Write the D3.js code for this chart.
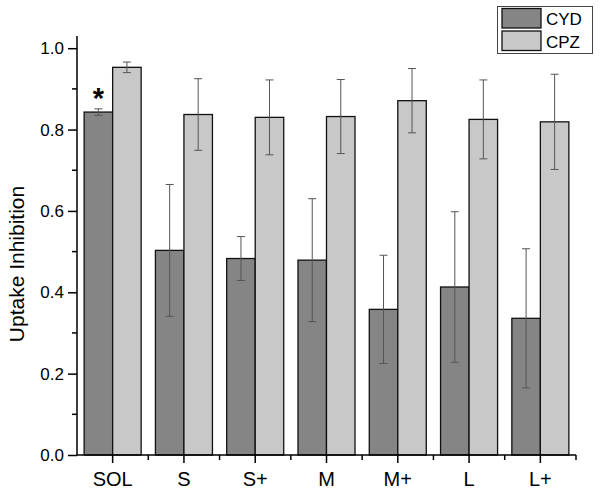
<!DOCTYPE html>
<html>
<head>
<meta charset="utf-8">
<script src="https://cdn.jsdelivr.net/npm/d3@7"></script>
<style>
  body { margin: 0; background: #fff; }
  text { font-family: "Liberation Sans", Arial, sans-serif; fill: #000; }
</style>
</head>
<body>
<div id="chart-container"></div>
<script>
const categories = ["SOL", "S", "S+", "M", "M+", "L", "L+"];
const seriesNames = ["CYD", "CPZ"];
const cydValues = [0.843, 0.503, 0.483, 0.479, 0.358, 0.413, 0.336];
const cydErrors = [0.008, 0.162, 0.054, 0.151, 0.133, 0.185, 0.171];
const cpzValues = [0.953, 0.837, 0.830, 0.832, 0.871, 0.825, 0.819];
const cpzErrors = [0.013, 0.088, 0.092, 0.091, 0.079, 0.097, 0.117];
const yTicks = [0, 0.2, 0.4, 0.6, 0.8, 1.0];
const yMinorTicks = [0.1, 0.3, 0.5, 0.7, 0.9];

const svgWidth = 601,
    svgHeight = 494;

const colors = { CYD: "#858585", CPZ: "#c8c8c8" };

var svg = d3.select("#chart-container").append("svg")
    .attr("width", svgWidth)
    .attr("height", svgHeight);

// scales
let xScale = d3.scaleBand()
        .domain(categories)
        .range([77, 576])
        .padding(0),
    yScale = d3.scaleLinear()
        .domain([0, 1.03])
        .range([455, 36]);

let subScale = d3.scaleBand()
    .domain(seriesNames)
    .range([xScale.bandwidth() * 0.1, xScale.bandwidth() * 0.9]);

// reformat data
let plotData = [];
categories.forEach((c, i) => {
    plotData.push({ cat: c, series: "CYD", value: cydValues[i], err: cydErrors[i] });
    plotData.push({ cat: c, series: "CPZ", value: cpzValues[i], err: cpzErrors[i] });
});

// bars
svg.selectAll("rect.bar")
    .data(plotData)
    .join("rect")
    .attr("class", "bar")
    .attr("x", (d) => xScale(d.cat) + subScale(d.series))
    .attr("y", (d) => yScale(d.value))
    .attr("width", subScale.bandwidth())
    .attr("height", (d) => yScale(0) - yScale(d.value))
    .attr("fill", (d) => colors[d.series])
    .attr("stroke", "#111")
    .attr("stroke-width", 1.3);

// error bars
let errG = svg.append("g")
    .attr("stroke", "#555")
    .attr("stroke-width", 1);
plotData.forEach((d) => {
    let cx = xScale(d.cat) + subScale(d.series) + subScale.bandwidth() / 2;
    let y1 = yScale(d.value + d.err), y2 = yScale(d.value - d.err);
    errG.append("line").attr("x1", cx).attr("x2", cx).attr("y1", y1).attr("y2", y2);
    errG.append("line").attr("x1", cx - 4).attr("x2", cx + 4).attr("y1", y1).attr("y2", y1);
    errG.append("line").attr("x1", cx - 4).attr("x2", cx + 4).attr("y1", y2).attr("y2", y2);
});

// significance marker
svg.append("text")
    .attr("x", xScale("SOL") + subScale("CYD") + subScale.bandwidth() / 2)
    .attr("y", yScale(cydValues[0] + cydErrors[0]) - 1)
    .attr("text-anchor", "middle")
    .style("font-size", "29px")
    .style("font-weight", "bold")
    .text("*");

// y axis
let yAxis = svg.append("g")
    .attr("transform", "translate(77,0)")
    .call(d3.axisLeft(yScale).tickValues(yTicks).tickFormat(d3.format(".1f")).tickSize(9).tickPadding(4));
yAxis.append("g")
    .selectAll("line")
    .data(yMinorTicks)
    .join("line")
    .attr("x1", -5).attr("x2", 0)
    .attr("y1", (d) => yScale(d)).attr("y2", (d) => yScale(d))
    .attr("stroke", "#000").attr("stroke-width", 1.5);
yAxis.select(".domain").attr("d", "M0," + yScale(1.03) + "V" + yScale(0)).attr("stroke-width", 1.5);
yAxis.selectAll(".tick line").attr("stroke-width", 1.5);
yAxis.selectAll("text").style("font-size", "17px").style("font-family", "Liberation Sans, Arial, sans-serif");

// x axis
let xAxis = svg.append("g")
    .attr("transform", "translate(0,455)")
    .call(d3.axisBottom(xScale).tickSize(8).tickPadding(9));
xAxis.select(".domain").attr("d", "M77,0H576").attr("stroke-width", 1.5);
xAxis.selectAll(".tick line").attr("stroke-width", 1.5);
xAxis.append("g")
    .selectAll("line")
    .data(categories.slice(1).concat(["end"]))
    .join("line")
    .attr("x1", (d) => d === "end" ? 576 : xScale(d))
    .attr("x2", (d) => d === "end" ? 576 : xScale(d))
    .attr("y1", 0).attr("y2", 5)
    .attr("stroke", "#000").attr("stroke-width", 1.5);
xAxis.selectAll("text").style("font-size", "20px").style("font-family", "Liberation Sans, Arial, sans-serif");

// y label
svg.append("text")
    .attr("transform", "translate(24,264) rotate(-90)")
    .attr("text-anchor", "middle")
    .style("font-size", "21px")
    .text("Uptake Inhibition");

// legend
let legend = svg.append("g");
legend.append("rect")
    .attr("x", 497.5).attr("y", 6.5)
    .attr("width", 95).attr("height", 47)
    .attr("fill", "#fff").attr("stroke", "#444").attr("stroke-width", 1);
seriesNames.forEach((s, i) => {
    legend.append("rect")
        .attr("x", 502).attr("y", 8.5 + i * 22.5)
        .attr("width", 39).attr("height", 19.5)
        .attr("fill", colors[s]).attr("stroke", "#111").attr("stroke-width", 1.3);
    legend.append("text")
        .attr("x", 546).attr("y", 25 + i * 22.5)
        .style("font-size", "17px")
        .text(s);
});
</script>
</body>
</html>
